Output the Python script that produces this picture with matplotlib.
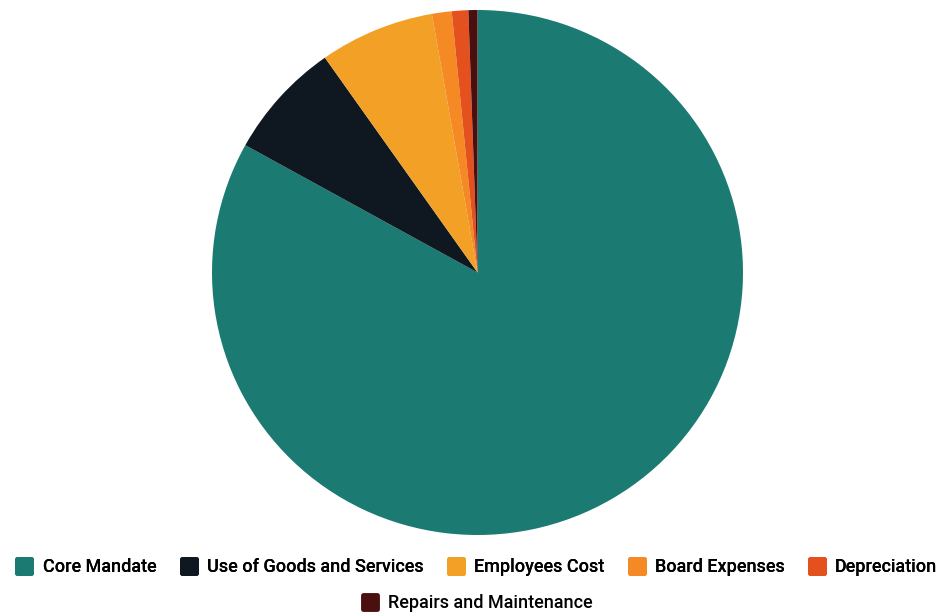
import matplotlib
matplotlib.use("Agg")
import matplotlib.pyplot as plt
from matplotlib.lines import Line2D
from matplotlib.markers import MarkerStyle

# Data (shares of total)
categories = ["Core Mandate", "Use of Goods and Services", "Employees Cost",
              "Board Expenses", "Depreciation", "Repairs and Maintenance"]
shares = [83.1, 7.2, 7.0, 1.2, 1.0, 0.55]
colors = ["#1b7a72", "#0f1720", "#f2a126", "#f58a25", "#e4501e", "#4a1010"]

plt.rcParams["font.family"] = ["Roboto", "DejaVu Sans"]

fig = plt.figure(figsize=(9.47, 6.13), dpi=100)
ax = fig.add_axes([212 / 947, 78 / 613, 531 / 947, 525 / 613])

ax.pie(shares, colors=colors, startangle=90, counterclock=False,
       wedgeprops=dict(linewidth=0))
ax.set_xlim(-1, 1)
ax.set_ylim(-1, 1)
ax.set_aspect("auto")

# Legend: five items on the first row, the last one centred below
rounded_sq = MarkerStyle("s", joinstyle="round")
handles = [Line2D([], [], marker=rounded_sq, linestyle="none", markersize=9.5,
                  markeredgewidth=3.5, markerfacecolor=c, markeredgecolor=c)
           for c in colors]

leg1 = fig.legend(handles[:5], categories[:5], loc="center",
                  bbox_to_anchor=(0.503, 0.075), ncol=5, frameon=False,
                  handlelength=1.0, handletextpad=0.5, columnspacing=1.3,
                  prop=dict(size=13, weight="medium"))
fig.add_artist(leg1)
fig.legend(handles[5:], categories[5:], loc="center",
           bbox_to_anchor=(0.503, 0.016), ncol=1, frameon=False,
           handlelength=1.0, handletextpad=0.5,
           prop=dict(size=13, weight="medium"))

fig.savefig("out.png", dpi=100)
